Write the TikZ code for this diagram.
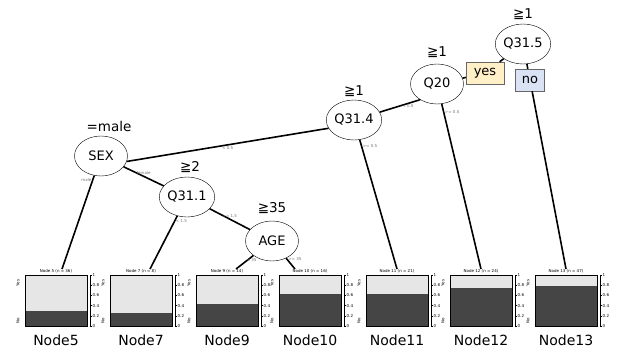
\documentclass[tikz,border=0pt]{standalone}
\usepackage{fontspec}
\setmainfont{DejaVu Sans}
\usetikzlibrary{shapes.geometric}
\definecolor{barlight}{HTML}{E6E6E6}
\definecolor{bardark}{HTML}{454545}
\definecolor{yesfill}{HTML}{FFF0C8}
\definecolor{nofill}{HTML}{DAE3F3}

\begin{document}
\begin{tikzpicture}[x=1pt, y=-1pt,
  split/.style={draw, ellipse, thin, fill=white, minimum width=53pt, minimum height=40pt, inner sep=0pt, font=\fontsize{13}{15}\selectfont},
  cond/.style={font=\fontsize{13.5}{15}\selectfont},
  edge/.style={line width=1.6pt},
  answer/.style={draw=black!60, thin, minimum height=22pt, inner sep=1pt, font=\fontsize{13}{15}\selectfont},
  tiny/.style={font=\fontsize{4}{4.5}\selectfont, inner sep=0.5pt},
  elabel/.style={tiny, text=black!55},
  leaf/.style={font=\fontsize{14}{16}\selectfont}]

\useasboundingbox (0,0) rectangle (619,349);

% terminal panels
\foreach \x/\f/\hd/\lb in {25/0.29/Node 5 (n = 36)/Node5, 110/0.25/Node 7 (n = 8)/Node7, 196/0.43/Node 9 (n = 14)/Node9, 279/0.63/Node 10 (n = 16)/Node10, 366/0.63/Node 11 (n = 21)/Node11, 450/0.75/Node 12 (n = 24)/Node12, 535/0.78/Node 13 (n = 47)/Node13}{
  \fill[barlight] (\x,275) rectangle ++(62,51);
  \fill[bardark] (\x,326) rectangle ++(62,{-\f*51});
  \draw[thin] (\x,275) rectangle ++(62,51);
  \draw[thin] (\x+65,275) -- (\x+65,326);
  \foreach \t in {0,0.2,0.4,0.6,0.8,1}
    \draw[thin] (\x+65,{326-\t*51}) -- ++(2,0) node[tiny, right] {\t};
  \node[tiny, rotate=90] at (\x-7,283) {Yes};
  \node[tiny, rotate=90] at (\x-7,321) {No};
  \node[tiny] (hd\lb) at (\x+31,271.5) {\hd};
  \node[leaf] (lb\lb) at (\x+31,340) {\lb};
}

% splits
\node[split] (q315) at (523,44) {Q31.5};
\node[cond] (c315) at (523,14) {≧1};
\node[answer, fill=yesfill, minimum width=38pt] (yes) at (485,73) {yes};
\node[answer, fill=nofill, minimum width=29pt] (no) at (530,80) {no};
\node[split] (q20) at (437,84) {Q20};
\node[cond] (c20) at (437,52) {≧1};
\node[split] (q314) at (354,120) {Q31.4};
\node[cond] (c314) at (354,91) {≧1};
\node[split] (sex) at (101,156) {SEX};
\node[cond] (csex) at (109,126) {=male};
\node[split] (q311) at (187,197) {Q31.1};
\node[cond] (c311) at (190,167) {≧2};
\node[split] (age) at (272,241) {AGE};
\node[cond] (cage) at (272,208) {≧35};

% branches
\draw[edge] (q315) -- (yes);
\draw[edge] (yes) -- (q20);
\draw[edge] (q315) -- (no);
\draw[edge] (no) -- (hdNode13.north);
\draw[edge] (q20.223) -- node[elabel, pos=0.3, below] {< 0.5} (q314.17);
\draw[edge] (q20) -- node[elabel, pos=0.05, right] {>= 0.5} (hdNode12.north);
\draw[edge] (q314.198) -- node[elabel, pos=0.5, below] {< 0.5} (sex.-12);
\draw[edge] (q314) -- node[elabel, pos=0.05, right] {>= 0.5} (hdNode11.north);
\draw[edge] (sex) -- node[elabel, pos=0.05, left] {male} ([xshift=6pt]hdNode5.north);
\draw[edge] (sex) -- node[elabel, pos=0.5, above] {female} (q311);
\draw[edge] (q311) -- node[elabel, pos=0.1, right] {< 1.5} ([xshift=9pt]hdNode7.north);
\draw[edge] (q311) -- node[elabel, pos=0.5, above] {>= 1.5} (age);
\draw[edge] (age) -- node[elabel, pos=0.1, below] {< 35} ([xshift=9pt]hdNode9.north);
\draw[edge] (age) -- node[elabel, pos=0.1, right] {>= 35} ([xshift=-15pt]hdNode10.north);

\end{tikzpicture}
\end{document}
